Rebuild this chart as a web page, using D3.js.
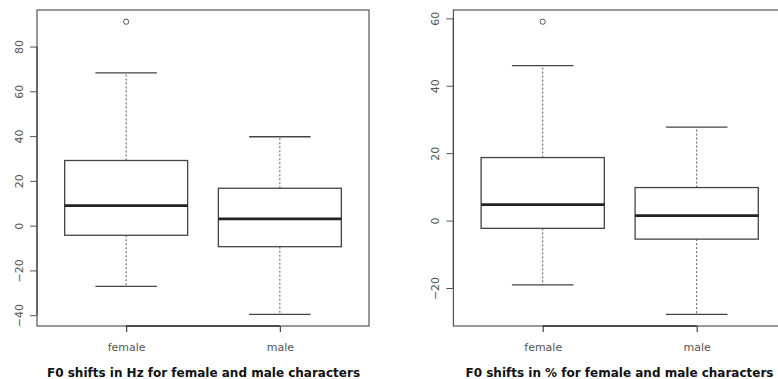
<!DOCTYPE html>
<html>
<head>
<meta charset="utf-8">
<script src="https://cdn.jsdelivr.net/npm/d3@7/dist/d3.min.js"></script>
<style>
html,body{margin:0;padding:0;background:#fff;}
svg{display:block;}
</style>
</head>
<body>
<svg id="chart" width="778" height="379"></svg>
<script>
// Data (box plot statistics)
const categories = ["female", "male"];
// Panel 1: F0 shifts in Hz
const hzWhiskerLow  = [-27.1, -39.6];
const hzQ1          = [-4.3, -9.4];
const hzMedian      = [8.9, 3.0];
const hzQ3          = [29.1, 16.7];
const hzWhiskerHigh = [68.2, 39.7];
const hzOutliers    = [[91.1], []];
const hzTicks       = [-40, -20, 0, 20, 40, 60, 80];
const hzTitle       = "F0 shifts in Hz for female and male characters";
// Panel 2: F0 shifts in %
const pctWhiskerLow  = [-19.1, -27.8];
const pctQ1          = [-2.3, -5.5];
const pctMedian      = [4.75, 1.5];
const pctQ3          = [18.7, 9.8];
const pctWhiskerHigh = [46.0, 27.7];
const pctOutliers    = [[59.0], []];
const pctTicks       = [-20, 0, 20, 40, 60];
const pctTitle       = "F0 shifts in % for female and male characters";

const svg = d3.select("#chart");
const FONT = "'DejaVu Sans', sans-serif";

function panel(opts) {
  const {x0, x1, y0, y1, lo, q1, med, q3, hi, out, ticks, title, titleX} = opts;
  const g = svg.append("g");
  const n = categories.length;
  // R-style 4% expansion
  const xs = d3.scaleLinear().domain([0.5 - 0.04 * n, n + 0.5 + 0.04 * n]).range([x0, x1]);
  const allVals = lo.concat(hi, out.flat());
  const mn = d3.min(allVals), mx = d3.max(allVals);
  const pad = (mx - mn) * 0.04;
  const ys = d3.scaleLinear().domain([mn - pad, mx + pad]).range([y1, y0]);
  const bw = (xs(2) - xs(1)) * 0.8;

  categories.forEach((c, i) => {
    const cx = xs(i + 1);
    // whiskers (dashed)
    g.append("line").attr("x1", cx).attr("x2", cx).attr("y1", ys(q3[i])).attr("y2", ys(hi[i]))
      .attr("stroke", "#555").attr("stroke-dasharray", "2,2").attr("stroke-width", 1);
    g.append("line").attr("x1", cx).attr("x2", cx).attr("y1", ys(q1[i])).attr("y2", ys(lo[i]))
      .attr("stroke", "#555").attr("stroke-dasharray", "2,2").attr("stroke-width", 1);
    // caps
    [hi[i], lo[i]].forEach(v => {
      g.append("line").attr("x1", cx - bw / 4).attr("x2", cx + bw / 4)
        .attr("y1", ys(v)).attr("y2", ys(v)).attr("stroke", "#444").attr("stroke-width", 1.3);
    });
    // box
    g.append("rect").attr("x", cx - bw / 2).attr("width", bw)
      .attr("y", ys(q3[i])).attr("height", ys(q1[i]) - ys(q3[i]))
      .attr("fill", "#fff").attr("stroke", "#444").attr("stroke-width", 1.3);
    // median
    g.append("line").attr("x1", cx - bw / 2).attr("x2", cx + bw / 2)
      .attr("y1", ys(med[i])).attr("y2", ys(med[i])).attr("stroke", "#222").attr("stroke-width", 2.8);
    // outliers
    out[i].forEach(v => {
      g.append("circle").attr("cx", cx).attr("cy", ys(v)).attr("r", 2.6)
        .attr("fill", "none").attr("stroke", "#555").attr("stroke-width", 1);
    });
  });

  // frame
  g.append("rect").attr("x", x0).attr("y", y0).attr("width", x1 - x0).attr("height", y1 - y0)
    .attr("fill", "none").attr("stroke", "#555").attr("stroke-width", 1.2);

  // y axis
  const ya = g.append("g").attr("transform", `translate(${x0},0)`)
    .call(d3.axisLeft(ys).tickValues(ticks).tickSize(7).tickSizeOuter(0).tickPadding(0));
  ya.select(".domain").remove();
  ya.append("line").attr("x1", 0).attr("x2", 0).attr("y1", ys(ticks[0])).attr("y2", ys(ticks[ticks.length - 1]))
    .attr("stroke", "#444").attr("stroke-width", 1.2);
  ya.selectAll(".tick line").attr("stroke", "#555");
  ya.selectAll(".tick text")
    .attr("transform", "rotate(-90)")
    .attr("x", 0).attr("y", -18).attr("dy", "0.35em")
    .attr("text-anchor", "middle")
    .attr("fill", "#555").style("font-family", FONT).style("font-size", "11px");

  // x axis
  const xa = g.append("g").attr("transform", `translate(0,${y1})`)
    .call(d3.axisBottom(xs).tickValues(d3.range(1, n + 1)).tickFormat(d => categories[d - 1])
      .tickSize(6).tickSizeOuter(0).tickPadding(11));
  xa.select(".domain").remove();
  xa.append("line").attr("x1", xs(1)).attr("x2", xs(n)).attr("y1", 0).attr("y2", 0)
    .attr("stroke", "#333").attr("stroke-width", 1.6);
  xa.selectAll(".tick line").attr("stroke", "#444").attr("stroke-width", 1.2);
  xa.selectAll(".tick text").attr("fill", "#555").style("font-family", FONT).style("font-size", "11px");

  // title
  g.append("text").attr("x", titleX).attr("y", 377).attr("text-anchor", "middle")
    .attr("fill", "#111").style("font-family", FONT).style("font-size", "12px").style("font-weight", "600")
    .text(title);
}

panel({x0: 37, x1: 369, y0: 10, y1: 326, lo: hzWhiskerLow, q1: hzQ1, med: hzMedian, q3: hzQ3,
  hi: hzWhiskerHigh, out: hzOutliers, ticks: hzTicks, title: hzTitle, titleX: 203.5});
panel({x0: 453.4, x1: 786, y0: 10, y1: 326, lo: pctWhiskerLow, q1: pctQ1, med: pctMedian, q3: pctQ3,
  hi: pctWhiskerHigh, out: pctOutliers, ticks: pctTicks, title: pctTitle, titleX: 619.5});
</script>
</body>
</html>
